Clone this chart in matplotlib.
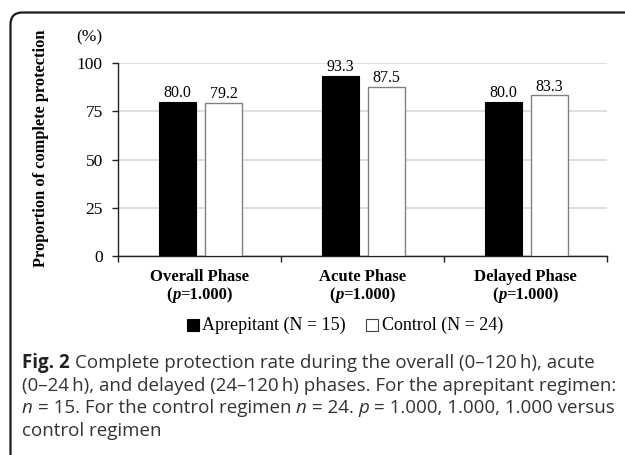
import matplotlib
matplotlib.use('Agg')
import matplotlib.pyplot as plt
from matplotlib.patches import FancyBboxPatch, Rectangle
from matplotlib.offsetbox import TextArea, HPacker, VPacker, AnnotationBbox, DrawingArea
from matplotlib.transforms import IdentityTransform

# ---------------- data ----------------
categories = ['Overall Phase', 'Acute Phase', 'Delayed Phase']
p_values = ['1.000', '1.000', '1.000']
aprepitant = [80.0, 93.3, 80.0]
control = [79.2, 87.5, 83.3]
series_names = ['Aprepitant (N = 15)', 'Control (N = 24)']
yticks = [0, 25, 50, 75, 100]

SERIF = ['Liberation Serif', 'DejaVu Serif']
SANS = ['Open Sans', 'DejaVu Sans']
W, H = 625, 455

fig = plt.figure(figsize=(W / 100, H / 100), dpi=100)
ax = fig.add_axes([118 / W, 1 - 256 / H, (607 - 118) / W, (256 - 63) / H])

xs = list(range(len(categories)))
bw = 0.227
ba = ax.bar([i - 0.137 for i in xs], aprepitant, width=bw, color='black',
            edgecolor='black', linewidth=0.8, zorder=3)
bc = ax.bar([i + 0.148 for i in xs], control, width=bw, color='white',
            edgecolor='#808080', linewidth=1.0, zorder=3)
for bars, vals in ((ba, aprepitant), (bc, control)):
    for b, v in zip(bars, vals):
        ax.annotate(f'{v:.1f}', (b.get_x() + b.get_width() / 2, v), xytext=(0, 0.5),
                    textcoords='offset points', ha='center', va='bottom',
                    fontsize=11.5, family=SERIF)

ax.set_xlim(-0.5, 2.5)
ax.set_ylim(0, 100)
ax.set_yticks(yticks)
ax.set_yticklabels([str(t) for t in yticks], family=SERIF, fontsize=12.5)
ax.set_xticks([-0.5, 0.5, 1.5, 2.5])
ax.set_xticklabels([])
ax.tick_params(axis='y', length=4, width=1, pad=7, color='#222222')
ax.tick_params(axis='x', length=4, width=1, color='#222222')
ax.grid(axis='y', color='#d9d9d9', linewidth=1.2, zorder=0)
ax.set_axisbelow(True)
for s in ['top', 'right']:
    ax.spines[s].set_visible(False)
for s in ['left', 'bottom']:
    ax.spines[s].set_color('#222222')
    ax.spines[s].set_linewidth(1.0)

# category labels
for i, (cat, pv) in enumerate(zip(categories, p_values)):
    bold = dict(family=SERIF, weight='bold', size=12, color='black')
    boldit = dict(family=SERIF, weight='bold', style='italic', size=12, color='black')
    line1 = TextArea(cat, textprops=bold)
    line2 = HPacker(children=[TextArea('(', textprops=bold), TextArea('p', textprops=boldit),
                              TextArea('=' + pv + ')', textprops=bold)],
                    align='baseline', pad=0, sep=0)
    block = VPacker(children=[line1, line2], align='center', pad=0, sep=1.5)
    ab = AnnotationBbox(block, (i, H - 269), xycoords=('data', 'figure pixels'),
                        box_alignment=(0.5, 1), frameon=False, pad=0)
    ax.add_artist(ab)

# y label and unit
fig.text(41 / W, 1 - 148 / H, 'Proportion of complete protection', rotation=90,
         ha='center', va='center', weight='bold', fontsize=11.8, family=SERIF)
fig.text(89 / W, 1 - 37 / H, '(%)', ha='center', va='center', fontsize=12.5, family=SERIF)

# legend
def swatch(face, edge):
    da = DrawingArea(8.5, 8.5, 0, 0)
    da.add_artist(Rectangle((0, 0), 8.5, 8.5, facecolor=face, edgecolor=edge, linewidth=0.8))
    return da

legprops = dict(family=SERIF, size=13, color='black')
leg = HPacker(children=[swatch('black', 'black'), TextArea(series_names[0], textprops=legprops),
                        TextArea('   ', textprops=legprops),
                        swatch('white', '#444444'), TextArea(series_names[1], textprops=legprops)],
              align='center', pad=0, sep=2.5)
fig.add_artist(AnnotationBbox(leg, (345, H - 325), xycoords='figure pixels',
                              box_alignment=(0.5, 0.5), frameon=False, pad=0))

# caption
FS = 13.5
cap = dict(family=SANS, size=FS, color='#333333')
capb = dict(family=SANS, size=FS, color='#222222', weight='bold')
capi = dict(family=SANS, size=FS, color='#333333', style='italic')
SP = 3.5
lines = [
    HPacker(children=[TextArea('Fig. 2', textprops=capb),
                      TextArea('Complete protection rate during the overall (0\u2013120\u2009h), acute', textprops=cap)],
            align='baseline', pad=0, sep=SP),
    HPacker(children=[TextArea('(0\u201324\u2009h), and delayed (24\u2013120\u2009h) phases. For the aprepitant regimen:', textprops=cap)],
            align='baseline', pad=0, sep=SP),
    HPacker(children=[TextArea('n', textprops=capi), TextArea('= 15. For the control regimen', textprops=cap),
                      TextArea('n', textprops=capi), TextArea('= 24.', textprops=cap),
                      TextArea('p', textprops=capi), TextArea('= 1.000, 1.000, 1.000 versus', textprops=cap)],
            align='baseline', pad=0, sep=SP),
    HPacker(children=[TextArea('control regimen', textprops=cap)], align='baseline', pad=0, sep=SP),
]
capbox = VPacker(children=lines, align='left', pad=0, sep=3)
fig.add_artist(AnnotationBbox(capbox, (22, H - 353), xycoords='figure pixels',
                              box_alignment=(0, 1), frameon=False, pad=0))

# rounded frame (partially cropped at right/bottom)
frame = FancyBboxPatch((10.5, -200), 900, H - 12.5 + 200,
                       boxstyle='round,pad=0,rounding_size=12',
                       transform=IdentityTransform(), fill=False,
                       linewidth=1.6, edgecolor='#1a1a1a')
fig.add_artist(frame)

fig.savefig('out.png', dpi=100)
